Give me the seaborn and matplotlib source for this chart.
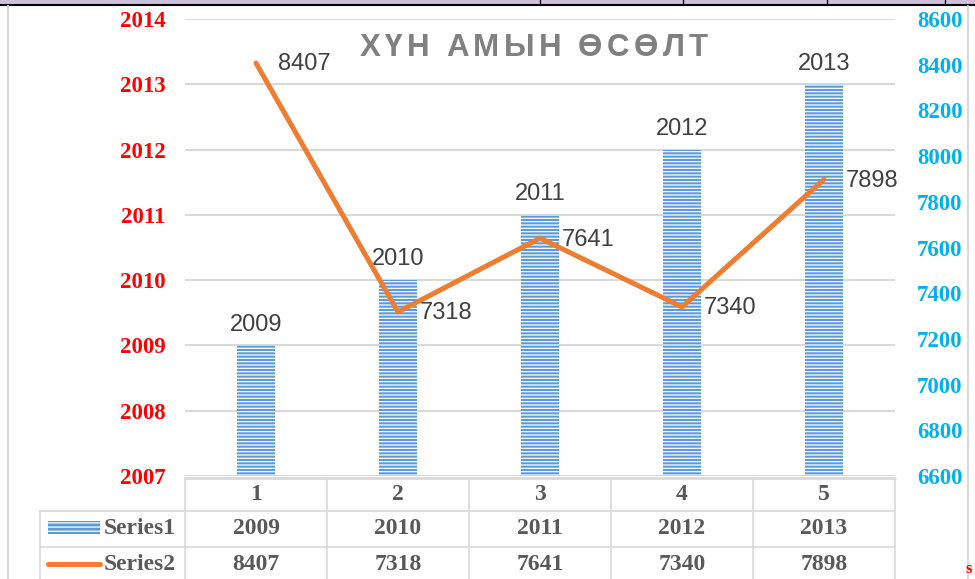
import numpy as np
import pandas as pd
import matplotlib
matplotlib.use('Agg')
import matplotlib.pyplot as plt
import seaborn as sns
from matplotlib import transforms
from matplotlib.patches import Rectangle
from matplotlib.lines import Line2D

# ---- data ----
categories = ['1', '2', '3', '4', '5']
series1 = [2009, 2010, 2011, 2012, 2013]
series2 = [8407, 7318, 7641, 7340, 7898]
left_ticks = [2007, 2008, 2009, 2010, 2011, 2012, 2013, 2014]
right_ticks = [6600, 6800, 7000, 7200, 7400, 7600, 7800, 8000, 8200, 8400, 8600]
title = 'ХҮН АМЫН ӨСӨЛТ'
series_names = ['Series1', 'Series2']

sns.set_theme(style='white')
plt.rcParams['font.family'] = ['Liberation Sans', 'DejaVu Sans']
plt.rcParams['hatch.linewidth'] = 0.9

W, H = 975, 579
fig = plt.figure(figsize=(W / 100, H / 100), dpi=100)
fig.patch.set_facecolor('white')


def fx(x):
    return x / W


def fy(y):
    return 1 - y / H


BLUE = '#5b9bd5'
ORANGE = '#ed7d31'
GRID = '#d9d9d9'
TXT = '#595959'
SERIF = ['Liberation Serif', 'DejaVu Serif']

ax = fig.add_axes([fx(185), fy(476), 710 / W, 457 / H])
df = pd.DataFrame({'cat': categories, 's1': series1, 's2': series2})
sns.barplot(data=df, x='cat', y='s1', ax=ax, width=0.27, color=BLUE,
            saturation=1, zorder=2)
for p in ax.patches:
    p.set_facecolor(BLUE)
    p.set_edgecolor('white')
    p.set_linewidth(0)
    p.set_hatch('-----')
ax.set_xlim(-0.5, 4.5)
ax.set_ylim(left_ticks[0], left_ticks[-1])
ax.set_yticks(left_ticks)
ax.set_yticklabels([str(t) for t in left_ticks], color='red',
                   fontweight='bold', fontsize=16.5, family=SERIF)
ax.tick_params(axis='y', length=0, pad=14)
ax.set_xticks([])
ax.set_xlabel('')
ax.set_ylabel('')
ax.grid(axis='y', color=GRID, linewidth=1.5)
ax.set_axisbelow(True)
for s in ax.spines.values():
    s.set_visible(False)

for i, v in enumerate(series1):
    ax.annotate(str(v), (i, v), xytext=(0, 7), textcoords='offset points',
                ha='center', va='bottom', fontsize=17, color='#404040')

ax2 = ax.twinx()
sns.lineplot(x=np.arange(len(series2)), y=series2, ax=ax2, color=ORANGE,
             linewidth=3.6, solid_capstyle='round', zorder=3)
ax2.set_ylim(right_ticks[0], right_ticks[-1])
ax2.set_yticks(right_ticks)
ax2.set_yticklabels([str(t) for t in right_ticks], color='#00b0f0',
                    fontweight='bold', fontsize=16.5, family=SERIF)
ax2.tick_params(axis='y', length=0, pad=16)
ax2.set_ylabel('')
ax2.set_xlim(-0.5, 4.5)
for s in ax2.spines.values():
    s.set_visible(False)
for i, v in enumerate(series2):
    ax2.annotate(str(v), (i, v), xytext=(16, -1), textcoords='offset points',
                 ha='left', va='center', fontsize=17, color='#404040')

# ---- title with letter spacing ----
renderer = fig.canvas.get_renderer()
tprops = dict(fontsize=22.5, fontweight='bold', color='#808080',
              family=['Liberation Sans', 'DejaVu Sans'])
widths = []
for ch in title:
    if ch == ' ':
        t = fig.text(0, 0, 'H', **tprops)
        w = t.get_window_extent(renderer).width * 0.35
    else:
        t = fig.text(0, 0, ch, **tprops)
        w = t.get_window_extent(renderer).width
    t.remove()
    widths.append(w)
x0, x1 = 360, 708
gap = (x1 - x0 - sum(widths)) / (len(title) - 1)
x = x0
for ch, w in zip(title, widths):
    if ch != ' ':
        fig.text(fx(x), fy(56), ch, ha='left', va='baseline', **tprops)
    x += w + gap

# ---- data table ----
bt = transforms.blended_transform_factory(ax.transData, fig.transFigure)
lw_t = 1.2
bounds = [i - 0.5 for i in range(len(categories) + 1)]
for b in bounds:
    fig.add_artist(Line2D([b, b], [fy(478), fy(590)], transform=bt,
                          color=GRID, linewidth=lw_t))
fig.add_artist(Line2D([bounds[0], bounds[-1]], [fy(478), fy(478)], transform=bt,
                      color=GRID, linewidth=2))
for yy in (511, 547):
    fig.add_artist(Line2D([fx(40), fx(185)], [fy(yy), fy(yy)],
                          transform=fig.transFigure, color=GRID, linewidth=lw_t))
    fig.add_artist(Line2D([bounds[0], bounds[-1]], [fy(yy), fy(yy)], transform=bt,
                          color=GRID, linewidth=lw_t))
fig.add_artist(Line2D([fx(40), fx(40)], [fy(511), fy(590)],
                      transform=fig.transFigure, color=GRID, linewidth=lw_t))

tab = dict(fontsize=17, fontweight='bold', color=TXT, family=SERIF,
           ha='center', va='center', transform=bt)
for i, c in enumerate(categories):
    fig.text(i, fy(495), c, **tab)
for i, v in enumerate(series1):
    fig.text(i, fy(529), str(v), **tab)
for i, v in enumerate(series2):
    fig.text(i, fy(564), str(v), **tab)

# legend keys
fig.add_artist(Rectangle((fx(48), fy(534)), 52 / W, 13 / H,
                         transform=fig.transFigure, facecolor=BLUE,
                         edgecolor='white', linewidth=0, hatch='----'))
fig.add_artist(Line2D([fx(48), fx(100)], [fy(564), fy(564)],
                      transform=fig.transFigure, color=ORANGE, linewidth=3.6,
                      solid_capstyle='round'))
fig.text(fx(104), fy(529), series_names[0], fontsize=17, fontweight='bold',
         color=TXT, family=SERIF, ha='left', va='center')
fig.text(fx(104), fy(564), series_names[1], fontsize=17, fontweight='bold',
         color=TXT, family=SERIF, ha='left', va='center')

# ---- page decoration ----
fig.add_artist(Rectangle((0, fy(4.5)), 1, 4.5 / H, transform=fig.transFigure,
                         facecolor='#ccc0da', edgecolor='none'))
fig.add_artist(Line2D([0, 1], [fy(5), fy(5)], transform=fig.transFigure,
                      color='black', linewidth=1.5))
for vx in (540, 683, 827, 945):
    fig.add_artist(Line2D([fx(vx), fx(vx)], [fy(0), fy(5)],
                          transform=fig.transFigure, color='black', linewidth=1))
fig.add_artist(Line2D([fx(8), fx(8)], [fy(6), fy(579)], transform=fig.transFigure,
                      color=GRID, linewidth=1.5))
fig.add_artist(Line2D([fx(968), fx(968)], [fy(6), fy(579)], transform=fig.transFigure,
                      color=GRID, linewidth=1.5))
fig.text(fx(966), fy(577), 's', color='red', fontweight='bold', fontsize=12,
         family=SERIF, ha='left', va='bottom')

fig.savefig('out.png', dpi=100)
